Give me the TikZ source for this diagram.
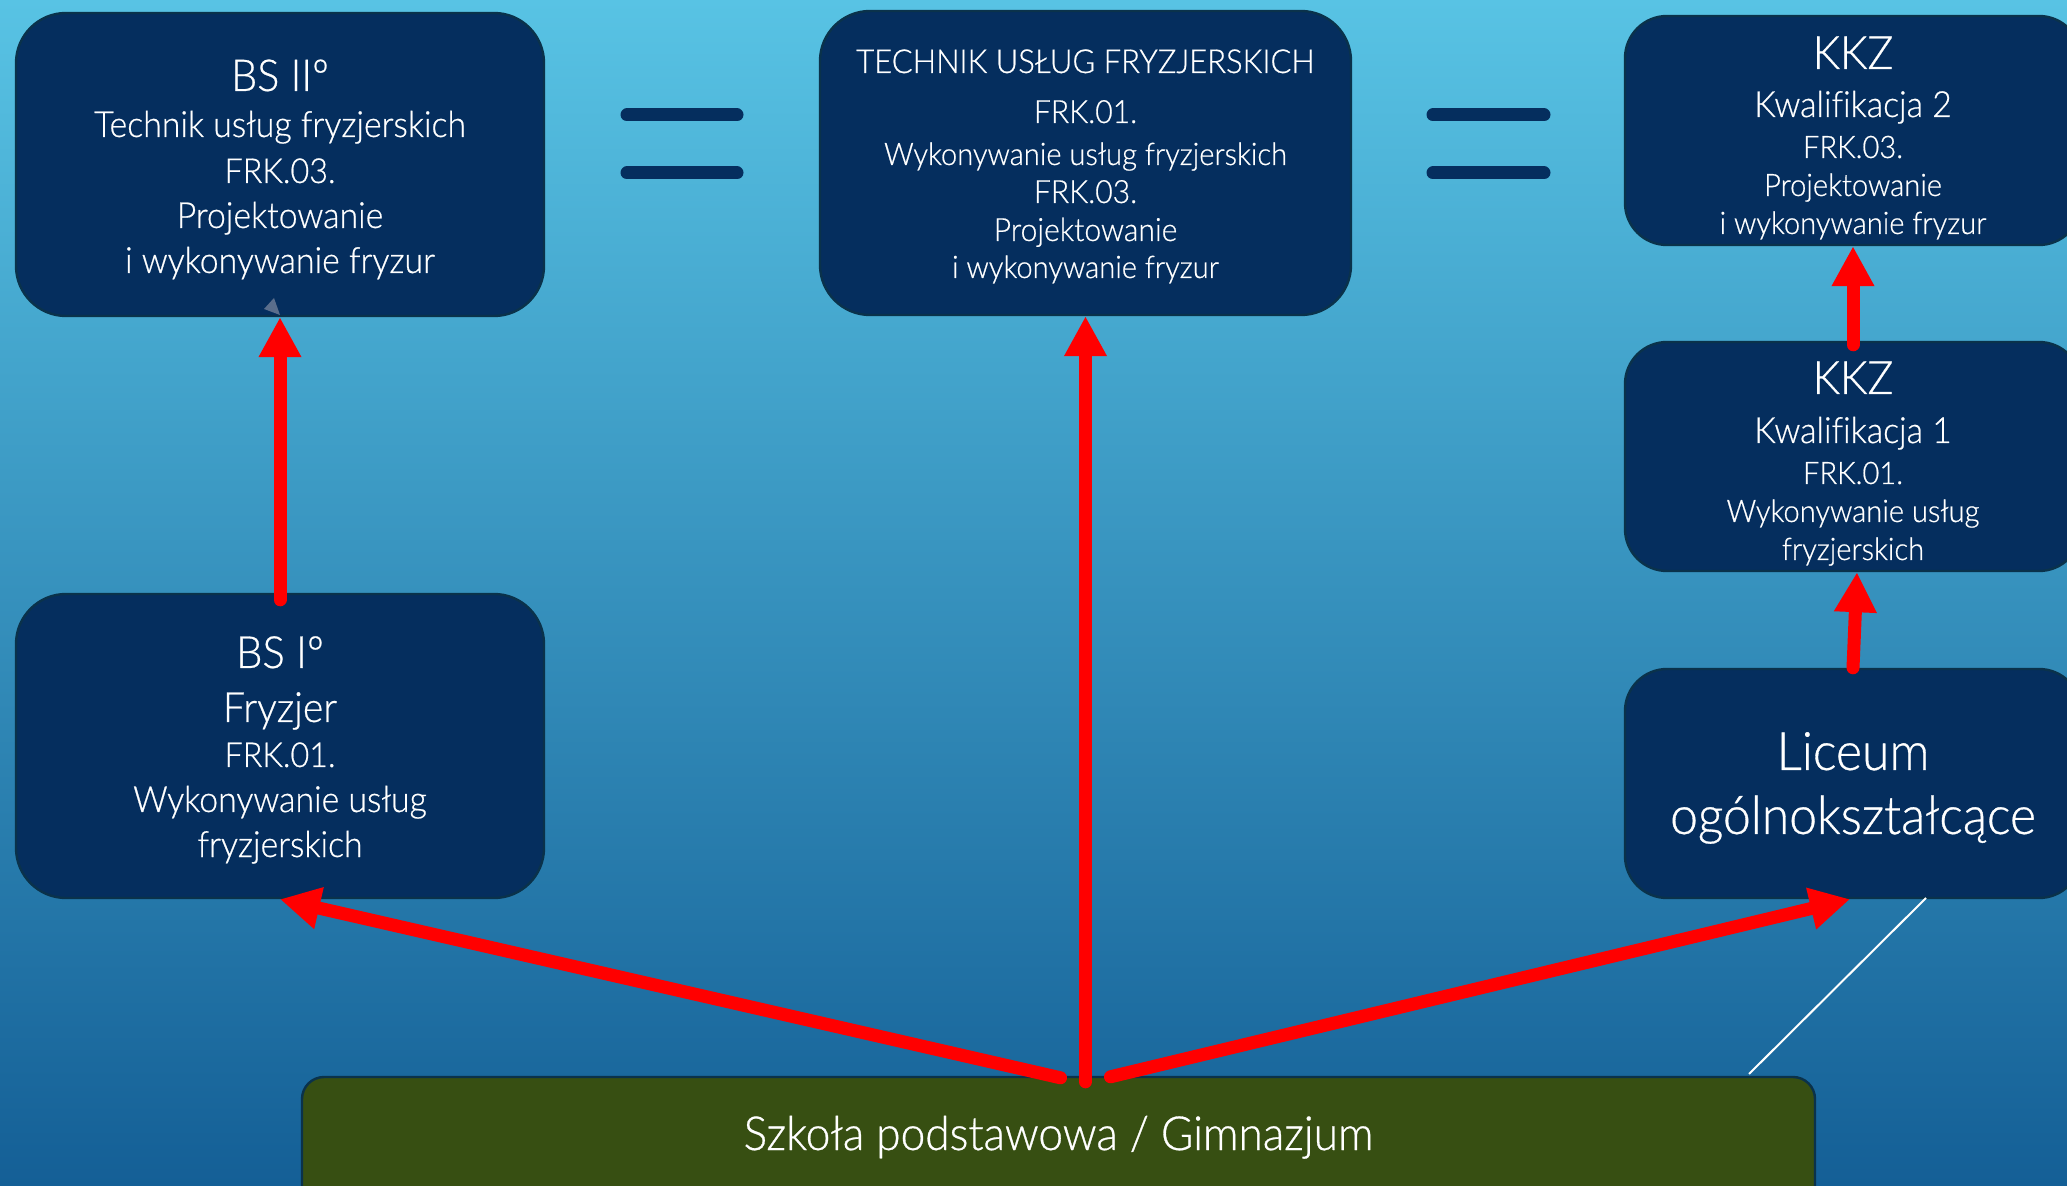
\documentclass[tikz,border=0pt]{standalone}
\usepackage{fontspec}
\setmainfont{Lato Light}[FakeStretch=0.94, FakeBold=0.6, Ligatures=NoCommon]
\usetikzlibrary{arrows.meta,calc}
\definecolor{bgtop}{RGB}{88,195,228}
\definecolor{bgbot}{RGB}{20,95,150}
\definecolor{navy}{RGB}{5,46,94}
\definecolor{navyedge}{RGB}{10,50,75}
\definecolor{olive}{RGB}{55,79,18}
\definecolor{arrred}{RGB}{255,0,0}
\definecolor{artefact}{RGB}{90,110,140}
\newcommand\fsz[1]{\fontsize{#1}{#1}\selectfont}
\tikzset{
  bigbox/.style={draw=navyedge, line width=1.2pt, fill=navy, rounded corners=25pt, inner sep=0pt},
  smallbox/.style={draw=navyedge, line width=1.2pt, fill=navy, rounded corners=21pt, inner sep=0pt,
    minimum width=228pt, minimum height=114.5pt},
  greenbox/.style={draw=navyedge, line width=1.2pt, fill=olive, rounded corners=11pt, inner sep=0pt},
  txt/.style={anchor=base, inner sep=0pt, text=white},
  redarrow/.style={draw=arrred, line width=6.5pt, line cap=round, -{Triangle[length=20pt,width=20pt]}},
  eqbar/.style={draw=navy, line width=6.5pt, line cap=round},
}
\begin{document}
\begin{tikzpicture}[x=0.5pt,y=-0.5pt]
\useasboundingbox (0,0) rectangle (2067,1186);
\begin{scope}
\clip (0,0) rectangle (2067,1186);
\shade[top color=bgtop, bottom color=bgbot] (0,0) rectangle (2067,1186);

% boxes
\node[bigbox, minimum width=264pt, minimum height=151.5pt] (bs2) at (280,164.5) {};
\node[bigbox, minimum width=264pt, minimum height=152pt] (bs1) at (280,746) {};
\node[bigbox, minimum width=265.5pt, minimum height=152pt] (tech) at (1085.5,163) {};
\node[smallbox] (k2) at (1853,130.5) {};
\node[smallbox] (k1) at (1853,456.5) {};
\node[smallbox] (lic) at (1853,783.5) {};
\node[greenbox, minimum width=756.5pt, minimum height=81.5pt] (gr) at (1058.5,1158.5) {};

% equals signs
\draw[eqbar] (627,115) -- (737,115);
\draw[eqbar] (627,173) -- (737,173);
\draw[eqbar] (1433,115) -- (1544,115);
\draw[eqbar] (1433,173) -- (1544,173);

% thin white line
\coordinate (w1) at (1926,898);
\coordinate (w2) at (1749,1074);
\draw[white, line width=1pt] (w1) -- (w2);

% arrows
\draw[redarrow] ($(bs1.north)+(0,7)$) -- (bs2.south);
\draw[redarrow] ($(gr.north)+(27,6)$) -- (tech.south);
\draw[redarrow] ($(gr.north)+(2,2)$) -- (bs1.south);
\draw[redarrow] ($(gr.north)+(52,1)$) -- ($(lic.south)+(-3,0)$);
\draw[redarrow] ($(k1.north)+(0,4)$) -- (k2.south);
\draw[redarrow] ($(lic.north)+(0,0)$) -- ($(k1.south)+(4,0)$);

% small grey artefact
\fill[artefact] (280,315) -- (264,309) -- (274,298) -- cycle;

% texts BS II
\node[txt] (bs2a) at (280,91) {\fsz{22pt}BS IIº};
\node[txt] (bs2b) at (280,137) {\fsz{18pt}Technik usług fryzjerskich};
\node[txt] (bs2c) at (280,183) {\fsz{17.2pt}FRK.03.};
\node[txt] (bs2d) at (280,228) {\fsz{18pt}Projektowanie};
\node[txt] (bs2e) at (280,273) {\fsz{18pt}i wykonywanie fryzur};
% texts Technik
\node[txt] (tea) at (1085.5,73) {\fsz{16.5pt}TECHNIK USŁUG FRYZJERSKICH};
\node[txt] (teb) at (1085.5,123) {\fsz{16pt}FRK.01.};
\node[txt] (tec) at (1085.5,165) {\fsz{15.5pt}Wykonywanie usług fryzjerskich};
\node[txt] (ted) at (1085.5,203) {\fsz{16pt}FRK.03.};
\node[txt] (tee) at (1085.5,241) {\fsz{16pt}Projektowanie};
\node[txt] (tef) at (1085.5,278) {\fsz{15.5pt}i wykonywanie fryzur};
% KKZ 2
\node[txt] (k2a) at (1853,69) {\fsz{23pt}KKZ};
\node[txt] (k2b) at (1853,117) {\fsz{18pt}Kwalifikacja 2};
\node[txt] (k2c) at (1853,158) {\fsz{15.5pt}FRK.03.};
\node[txt] (k2d) at (1853,196) {\fsz{15.5pt}Projektowanie};
\node[txt] (k2e) at (1853,234) {\fsz{15.5pt}i wykonywanie fryzur};
% KKZ 1
\node[txt] (k1a) at (1853,394) {\fsz{23pt}KKZ};
\node[txt] (k1b) at (1853,443) {\fsz{18pt}Kwalifikacja 1};
\node[txt] (k1c) at (1853,484) {\fsz{15.5pt}FRK.01.};
\node[txt] (k1d) at (1853,522) {\fsz{15.5pt}Wykonywanie usług};
\node[txt] (k1e) at (1853,560) {\fsz{15.5pt}fryzjerskich};
% Liceum
\node[txt] (lica) at (1853,770) {\fsz{26.5pt}Liceum};
\node[txt] (licb) at (1853,834) {\fsz{26.5pt}ogólnokształcące};
% BS I
\node[txt] (bs1a) at (280,668) {\fsz{22.2pt}BS Iº};
\node[txt] (bs1b) at (280,722) {\fsz{20.8pt}Fryzjer};
\node[txt] (bs1c) at (280,767) {\fsz{17.2pt}FRK.01.};
\node[txt] (bs1d) at (280,812) {\fsz{18pt}Wykonywanie usług};
\node[txt] (bs1e) at (280,857) {\fsz{18pt}fryzjerskich};
% green
\node[txt] (gra) at (1058.5,1150) {\fsz{23.5pt}Szkoła podstawowa / Gimnazjum};
\end{scope}
\end{tikzpicture}
\end{document}
